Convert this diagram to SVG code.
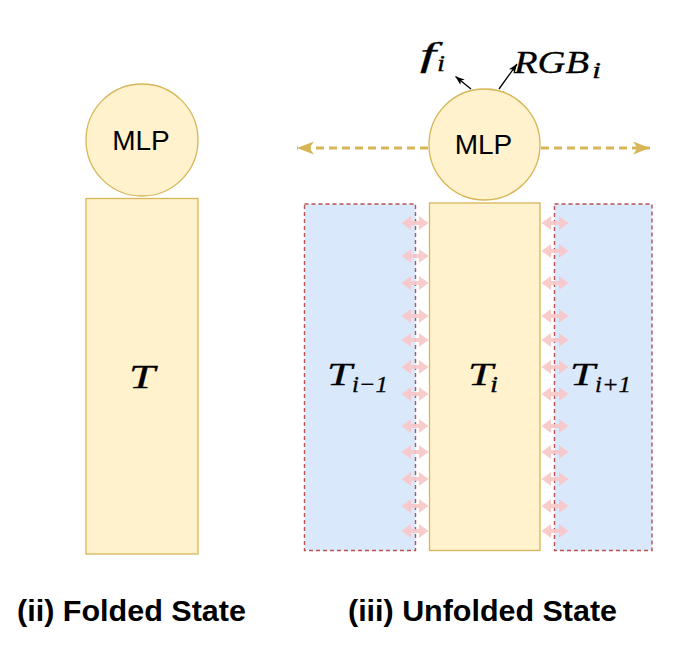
<svg xmlns="http://www.w3.org/2000/svg" xmlns:xlink="http://www.w3.org/1999/xlink" width="686" height="658" viewBox="0 0 686 658">
<style>
.yel{fill:#fff2cc;stroke:#d6b656;stroke-width:1.3}
.blu{fill:#dae8fc;stroke:#b85450;stroke-width:1.4;stroke-dasharray:4 3}
.lbl{font-family:"Liberation Sans",Arial,sans-serif;fill:#000}
.math{font-family:"Liberation Serif","DejaVu Serif",serif;font-style:italic;fill:#000;stroke:#000;stroke-width:0.3}
.ttl{font-family:"Liberation Sans",Arial,sans-serif;font-weight:bold;font-size:30px;fill:#000}
.dash{stroke:#d6b656;stroke-width:3;stroke-dasharray:8 5;fill:none}
.blk{stroke:#000;stroke-width:1.3;fill:none}
</style>
<defs>
<marker id="yh" markerUnits="userSpaceOnUse" markerWidth="18" markerHeight="14" refX="17" refY="6.5" orient="auto">
<path d="M0,0 L17,6.5 L0,13 L4.5,6.5 Z" fill="#d6b656"/>
</marker>
<marker id="bh" markerUnits="userSpaceOnUse" markerWidth="10" markerHeight="8" refX="9" refY="3.5" orient="auto">
<path d="M0,0 L9,3.5 L0,7 L2.2,3.5 Z" fill="#000"/>
</marker>
<path id="pa" d="M-13.5,0 L-4,-7 L-4,-2 L4,-2 L4,-7 L13.5,0 L4,7 L4,2 L-4,2 L-4,7 Z" fill="#f8c6c6" opacity="0.9"/>
</defs>

<!-- (ii) Folded state -->
<g id="folded-T">
<rect class="yel" x="86" y="198.5" width="112" height="355.5"/>
<text class="math" x="129" y="388" font-size="33" textLength="26" lengthAdjust="spacingAndGlyphs">T</text>
</g>
<g id="folded-MLP">
<circle class="yel" cx="142" cy="140" r="56"/>
<text class="lbl" x="141" y="150" font-size="28" text-anchor="middle">MLP</text>
</g>

<!-- (iii) Unfolded state -->
<g id="T-im1">
<rect class="blu" x="304.5" y="204" width="111" height="346.5"/>
<text class="math" x="327" y="385" font-size="32" textLength="25" lengthAdjust="spacingAndGlyphs">T</text>
<text class="math" x="352" y="392" font-size="23" textLength="36" lengthAdjust="spacingAndGlyphs">i−1</text>
</g>
<g id="T-ip1">
<rect class="blu" x="554.5" y="204" width="97.5" height="346.5"/>
<text class="math" x="570" y="385" font-size="32" textLength="25" lengthAdjust="spacingAndGlyphs">T</text>
<text class="math" x="595" y="392" font-size="23" textLength="36" lengthAdjust="spacingAndGlyphs">i+1</text>
</g>
<g id="T-i">
<rect class="yel" x="429.5" y="203" width="110.5" height="347.5"/>
<text class="math" x="468" y="385" font-size="32" textLength="25" lengthAdjust="spacingAndGlyphs">T</text>
<text class="math" x="490" y="392" font-size="23" textLength="8" lengthAdjust="spacingAndGlyphs">i</text>
</g>
<g id="unfolded-MLP">
<circle class="yel" cx="484.5" cy="144.5" r="55.5"/>
<text class="lbl" x="483.5" y="154" font-size="28" text-anchor="middle">MLP</text>
</g>
<g id="f-i">
<text class="math" x="420" y="66" font-size="33" textLength="16" lengthAdjust="spacingAndGlyphs">f</text>
<text class="math" x="437" y="71" font-size="23" textLength="8" lengthAdjust="spacingAndGlyphs">i</text>
</g>
<g id="RGB-i">
<text class="math" x="514" y="73" font-size="32" textLength="75" lengthAdjust="spacingAndGlyphs">RGB</text>
<text class="math" x="592" y="78" font-size="23" textLength="9" lengthAdjust="spacingAndGlyphs">i</text>
</g>

<g id="connectors">
<line class="dash" x1="428" y1="148" x2="297" y2="148" marker-end="url(#yh)"/>
<line class="dash" x1="541" y1="148" x2="650" y2="148" marker-end="url(#yh)"/>
<line class="blk" x1="471" y1="89" x2="455.5" y2="76.5" marker-end="url(#bh)"/>
<line class="blk" x1="499" y1="89" x2="517" y2="64" marker-end="url(#bh)"/>
<g id="left-links">
<use xlink:href="#pa" x="415" y="223"/>
<use xlink:href="#pa" x="415" y="256"/>
<use xlink:href="#pa" x="415" y="283"/>
<use xlink:href="#pa" x="415" y="316"/>
<use xlink:href="#pa" x="415" y="340"/>
<use xlink:href="#pa" x="415" y="367"/>
<use xlink:href="#pa" x="415" y="394"/>
<use xlink:href="#pa" x="415" y="426"/>
<use xlink:href="#pa" x="415" y="452"/>
<use xlink:href="#pa" x="415" y="479"/>
<use xlink:href="#pa" x="415" y="506"/>
<use xlink:href="#pa" x="415" y="531"/>
</g>
<g id="right-links">
<use xlink:href="#pa" x="555" y="223"/>
<use xlink:href="#pa" x="555" y="251"/>
<use xlink:href="#pa" x="555" y="283"/>
<use xlink:href="#pa" x="555" y="316"/>
<use xlink:href="#pa" x="555" y="340"/>
<use xlink:href="#pa" x="555" y="367"/>
<use xlink:href="#pa" x="555" y="394"/>
<use xlink:href="#pa" x="555" y="426"/>
<use xlink:href="#pa" x="555" y="452"/>
<use xlink:href="#pa" x="555" y="479"/>
<use xlink:href="#pa" x="555" y="506"/>
<use xlink:href="#pa" x="555" y="531"/>
</g>
</g>

<text class="ttl" x="17" y="621" textLength="229" lengthAdjust="spacingAndGlyphs">(ii) Folded State</text>
<text class="ttl" x="348" y="621" textLength="269" lengthAdjust="spacingAndGlyphs">(iii) Unfolded State</text>
</svg>
